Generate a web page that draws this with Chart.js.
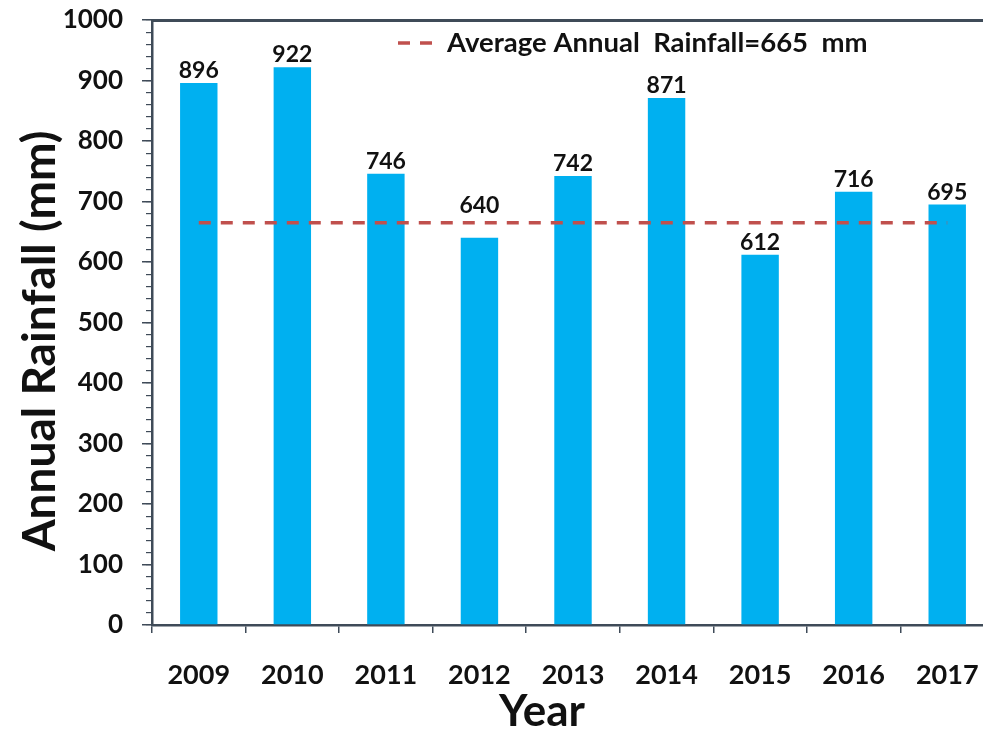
<!DOCTYPE html>
<html>
<head>
<meta charset="utf-8">
<title>Annual Rainfall 2009–2017</title>
<script src="https://cdn.jsdelivr.net/npm/chart.js@4/dist/chart.umd.min.js"></script>
<style>
  html, body { margin: 0; padding: 0; background: #ffffff; overflow: hidden; }
  #wrap { position: absolute; left: 0; top: 0; width: 1000px; height: 734px; }
</style>
</head>
<body>
<div id="wrap"><canvas id="rain"></canvas></div>
<script>
// Annual rainfall per year (mm)
const years = ['2009', '2010', '2011', '2012', '2013', '2014', '2015', '2016', '2017'];
const rainfall = [896, 922, 746, 640, 742, 871, 612, 716, 695];
const averageRainfall = 665;
const yTicks = [0, 100, 200, 300, 400, 500, 600, 700, 800, 900, 1000];
const yTitle = 'Annual Rainfall (mm)';
const xTitle = 'Year';
const averageLabel = 'Average Annual  Rainfall=' + averageRainfall + '  mm';

const FONT = 'Lato, "Open Sans", sans-serif';
const AXIS = '#3f4b58';
const BAR = '#00b0f0';
const AVG = '#c0504d';

// a label that would sit on the average line is lifted above it
const barValues = {
  id: 'barValues',
  afterDatasetsDraw(chart) {
    const { ctx } = chart;
    const meta = chart.getDatasetMeta(0);
    const lineY = chart.scales.y.getPixelForValue(averageRainfall);
    const textH = 17;
    ctx.save();
    ctx.font = 'bold 23px ' + FONT;
    ctx.fillStyle = '#111111';
    ctx.textAlign = 'center';
    ctx.textBaseline = 'alphabetic';
    meta.data.forEach((bar, i) => {
      let base = bar.y - 5;
      if (base > lineY - 6 && base - textH < lineY + 4) base = lineY - 10;
      ctx.fillText(String(chart.data.datasets[0].data[i]), bar.x, base);
    });
    ctx.restore();
  }
};

// Axis titles and the in-plot legend entry for the average line
const decorations = {
  id: 'decorations',
  afterDraw(chart) {
    const { ctx, chartArea } = chart;
    ctx.save();
    ctx.fillStyle = '#111111';
    ctx.textAlign = 'center';
    ctx.textBaseline = 'middle';

    ctx.font = 'bold 46px ' + FONT;
    ctx.translate(40, 341);
    ctx.rotate(-Math.PI / 2);
    ctx.fillText(yTitle, 0, 0);
    ctx.setTransform(1, 0, 0, 1, 0, 0);

    ctx.font = 'bold 44px ' + FONT;
    ctx.fillText(xTitle, 542, 712);

    // legend: dashed sample + label
    const ds = chart.data.datasets[1];
    const lx = 398, ly = chartArea.top + 23;
    ctx.strokeStyle = ds.borderColor;
    ctx.lineWidth = ds.borderWidth;
    ctx.setLineDash(ds.borderDash);
    ctx.beginPath();
    ctx.moveTo(lx, ly);
    ctx.lineTo(lx + 34, ly);
    ctx.stroke();
    ctx.setLineDash([]);
    ctx.font = 'bold 27.5px ' + FONT;
    ctx.textAlign = 'left';
    ctx.fillText(ds.label, 447, ly);
    ctx.restore();
  }
};

function noOverflowPadding(scale) {
  scale.paddingTop = 0;
  scale.paddingBottom = 0;
  scale.paddingLeft = 0;
  scale.paddingRight = 0;
}

new Chart(document.getElementById('rain'), {
  data: {
    labels: years,
    datasets: [
      {
        type: 'bar',
        label: 'Annual Rainfall',
        data: rainfall,
        backgroundColor: BAR,
        borderWidth: 0,
        barPercentage: 0.8,
        categoryPercentage: 0.5,
        order: 2
      },
      {
        type: 'line',
        label: averageLabel,
        data: years.map(() => averageRainfall),
        borderColor: AVG,
        borderWidth: 3.5,
        borderDash: [12, 10],
        pointRadius: 0,
        fill: false,
        order: 1
      }
    ]
  },
  options: {
    responsive: true,
    maintainAspectRatio: false,
    animation: false,
    layout: { padding: { left: 0, right: 6, top: 0, bottom: 0 } },
    plugins: {
      legend: { display: false },
      tooltip: { enabled: false }
    },
    scales: {
      x: {
        type: 'category',
        position: 'bottom',
        offset: true,
        grid: { offset: true, drawOnChartArea: false, drawTicks: true, tickLength: 8, color: AXIS, lineWidth: 1.5 },
        border: { display: true, color: AXIS, width: 2.5 },
        ticks: { color: '#111111', font: { family: FONT, size: 27, weight: 'bold' }, padding: 26, maxRotation: 0 },
        afterFit(scale) { scale.height = 109; noOverflowPadding(scale); }
      },
      xTop: {
        type: 'category',
        position: 'top',
        offset: true,
        grid: { display: false, drawTicks: false },
        border: { display: true, color: AXIS, width: 3 },
        ticks: { display: false },
        afterFit(scale) { scale.height = 20; noOverflowPadding(scale); }
      },
      y: {
        position: 'left',
        weight: 1,
        min: 0,
        max: 1000,
        afterBuildTicks(scale) { scale.ticks = yTicks.map(v => ({ value: v })); },
        grid: { drawOnChartArea: false, drawTicks: true, tickLength: 10, color: AXIS, lineWidth: 1.5 },
        border: { display: true, color: AXIS, width: 2.5 },
        ticks: {
          color: '#111111',
          font: { family: FONT, size: 26, weight: 'bold' },
          padding: 19,
          callback: v => String(v)
        },
        afterFit(scale) { scale.width = 152; noOverflowPadding(scale); }
      },
      yMinor: {
        position: 'left',
        weight: 0,
        min: 0,
        max: 1000,
        ticks: { display: false, stepSize: 20 },
        grid: { drawOnChartArea: false, drawTicks: true, tickLength: 6, color: AXIS, lineWidth: 1.2 },
        border: { display: false },
        afterFit(scale) { scale.width = 0; noOverflowPadding(scale); }
      }
    }
  },
  plugins: [barValues, decorations]
});
</script>
</body>
</html>
